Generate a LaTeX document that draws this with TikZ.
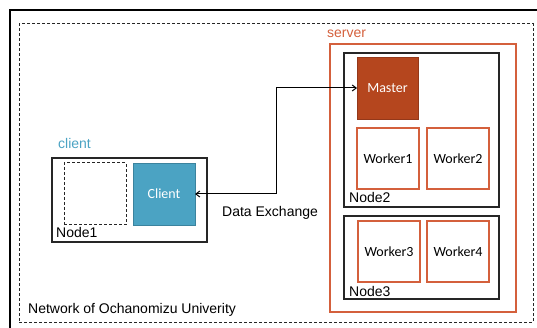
\documentclass[tikz,border=0pt]{standalone}
\usepackage{fontspec}
\setmainfont{Liberation Sans}
\newfontfamily\carl{Carlito}
\usetikzlibrary{arrows.meta}
\definecolor{srvorange}{HTML}{D4603C}
\definecolor{masterfill}{HTML}{B5461E}
\definecolor{masterline}{HTML}{93381A}
\definecolor{clientfill}{HTML}{4BA3C3}
\definecolor{clientline}{HTML}{3B839E}
\begin{document}
\begin{tikzpicture}[x=1pt,y=-1pt,
  box/.style={draw, line width=1.3pt, inner sep=0pt, outer sep=0pt, anchor=north west},
  nodebox/.style={box, draw=black!85},
  orangebox/.style={box, draw=srvorange, line width=1.3pt},
  dashbox/.style={box, draw=black!85, line width=1pt, dash pattern=on 3pt off 2pt},
  carltxt/.style={font=\carl\fontsize{14}{16}\selectfont},
  lbl/.style={anchor=base west, inner sep=0pt, font=\fontsize{14}{16}\selectfont},
  worker/.style={orangebox, minimum width=62pt, minimum height=61pt, carltxt},
  arr/.style={line width=1pt, {Straight Barb[length=4pt,width=6pt]}-{Straight Barb[length=4pt,width=6pt]}}
]
\useasboundingbox (0,0) rectangle (537,328);
% outer frame (cropped)
\draw[line width=1.1pt] (537,10) -| (10,328);
% network dashed frame
\node[dashbox, minimum width=514pt, minimum height=298pt] (net) at (19,24) {};
\node[lbl] (netlbl) at (28,313) {Network of Ochanomizu Univerity};
% server
\node[orangebox, minimum width=186pt, minimum height=268pt] (server) at (330,44) {};
\node[lbl, text=srvorange] (serverlbl) at (327,38) {server};
\node[nodebox, minimum width=155pt, minimum height=154pt] (node2) at (344,53) {};
\node[lbl] (node2lbl) at (349,203) {Node2};
\node[box, draw=masterline, fill=masterfill, line width=0.8pt, minimum width=61pt, minimum height=62pt, carltxt, text=white] (master) at (357,57) {Master};
\node[worker] (w1) at (357,128) {Worker1};
\node[worker] (w2) at (427,128) {Worker2};
\node[nodebox, minimum width=155pt, minimum height=83pt] (node3) at (344,216) {};
\node[lbl] (node3lbl) at (349,296) {Node3};
\node[worker] (w3) at (358,221) {Worker3};
\node[worker] (w4) at (427,221) {Worker4};
% client
\node[lbl, text=clientfill] (clientlbl) at (58,149) {client};
\node[nodebox, minimum width=155pt, minimum height=84pt] (node1) at (52,158) {};
\node[dashbox, minimum width=62pt, minimum height=62pt] (empty) at (64,163) {};
\node[box, draw=clientline, fill=clientfill, line width=0.8pt, minimum width=62pt, minimum height=62pt, carltxt, text=white] (client) at (133,163) {Client};
\node[lbl] (node1lbl) at (56,237) {Node1};
% data exchange
\coordinate (bend) at (276,194);
\draw[arr] (client.east) -- (bend) |- (master.west);
\node[lbl] (dx) at (222,217) {Data Exchange};
\end{tikzpicture}
\end{document}
